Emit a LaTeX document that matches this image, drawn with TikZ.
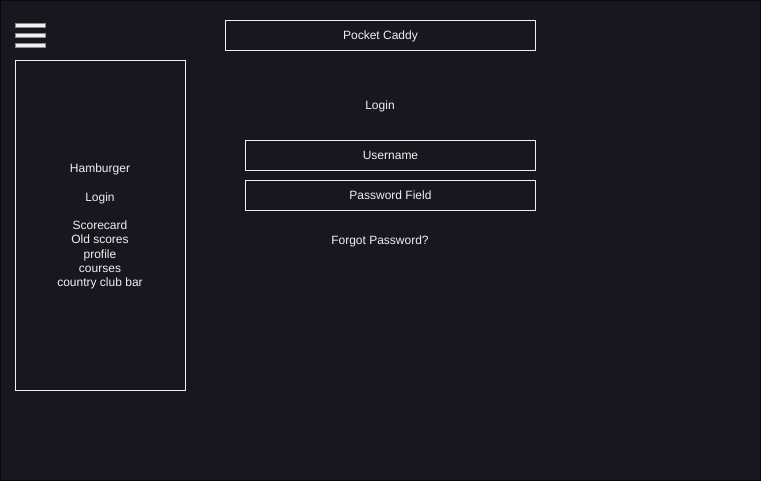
\documentclass[tikz,border=0pt]{standalone}
\usepackage{fontspec}
\setmainfont{Liberation Sans}
\definecolor{bg}{HTML}{18161F}
\definecolor{fg}{HTML}{F0F0F0}
\definecolor{barline}{HTML}{8A8A8A}
\begin{document}
\begin{tikzpicture}[x=0.75pt,y=-0.75pt,
  lbl/.style={text=fg,font=\fontsize{9}{10.5}\selectfont,inner sep=0pt},
  boxed/.style={draw=fg,line width=0.75pt},
  bar/.style={fill=fg,draw=barline,line width=0.75pt}]
\useasboundingbox (0,0) rectangle (761,481);
\fill[bg] (0,0) rectangle (761,481);
\draw[draw=black!60!bg,line width=0.75pt] (0.5,0.5) rectangle (760.5,480.5);
% hamburger icon
\draw[bar] (15.5,23.5) rectangle (45.5,27.5);
\draw[bar] (15.5,33.5) rectangle (45.5,37.5);
\draw[bar] (15.5,43.5) rectangle (45.5,47.5);
% sidebar
\draw[boxed] (15.5,60.5) rectangle (185.5,390.5);
\node[lbl] (hamb) at (100,169) {Hamburger};
\node[lbl] (slogin) at (100,198) {Login};
\node[lbl,align=center,font=\fontsize{9}{10.7}\selectfont] (menu) at (100,255) {Scorecard\\Old scores\\profile\\courses\\country club bar};
% title
\node[boxed,minimum width=310*0.75pt,minimum height=30*0.75pt,lbl,inner sep=0pt] (title) at (380.5,35.5) {};
\node[lbl] at (380.5,36) {Pocket Caddy};
\node[lbl] (login) at (380,106) {Login};
\node[boxed,minimum width=290*0.75pt,minimum height=30*0.75pt,lbl,inner sep=0pt] (user) at (390.5,155.5) {Username};
\node[boxed,minimum width=290*0.75pt,minimum height=30*0.75pt,lbl,inner sep=0pt] (pass) at (390.5,195.5) {Password Field};
\node[lbl] (forgot) at (380,241) {Forgot Password?};
\end{tikzpicture}
\end{document}
